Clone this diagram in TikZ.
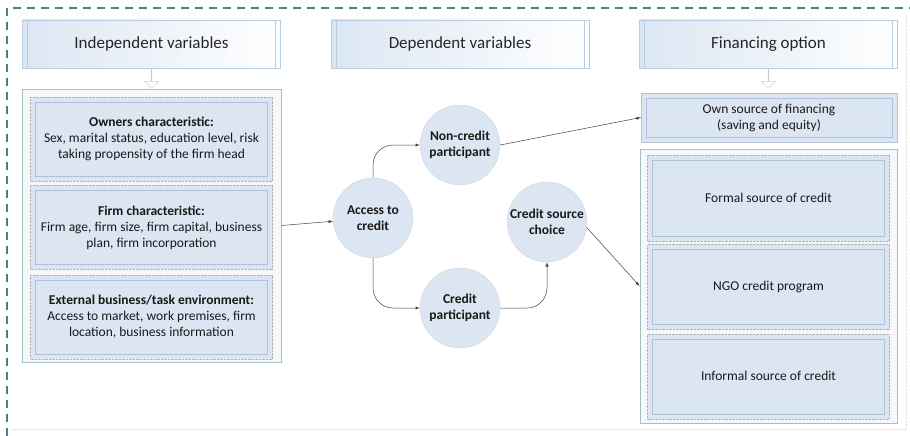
\documentclass[tikz,border=0pt]{standalone}
\usepackage{fontspec}
\setmainfont{Carlito}
\usepackage{tikz}
\usetikzlibrary{arrows,shapes.arrows,positioning}
\definecolor{boxblue}{HTML}{DCE6F2}
\definecolor{hdrblue}{HTML}{DCE6F3}
\definecolor{hdrline}{HTML}{B9CDE2}
\definecolor{bevel}{HTML}{AFC2D8}
\definecolor{grpline}{HTML}{9EC4C6}
\definecolor{grpfill}{HTML}{F5F7F9}
\definecolor{frameteal}{HTML}{4F7F86}
\tikzset{
  header/.style={
      rectangle,
      draw=hdrline,
      left color=hdrblue,
      right color=white,
      minimum width=258pt,
      minimum height=48pt,
      text=black!85,
      font=\fontsize{17}{20}\selectfont,
      path picture={
        \draw[hdrline] ([xshift=5pt]path picture bounding box.north west) -- ([xshift=5pt]path picture bounding box.south west);
        \draw[hdrline] ([xshift=-5pt]path picture bounding box.north east) -- ([xshift=-5pt]path picture bounding box.south east);
      }
  },
  group/.style={
      rectangle,
      draw=grpline,
      fill=grpfill,
      line width=0.8pt
  },
  factor/.style={
      rectangle,
      draw=black!30,
      densely dotted,
      fill=boxblue,
      minimum width=242pt,
      align=center,
      text=black!90,
      font=\fontsize{13.5}{16}\selectfont,
      path picture={
        \draw[solid,bevel] ([shift={(5pt,-5pt)}]path picture bounding box.north west) rectangle ([shift={(-5pt,5pt)}]path picture bounding box.south east);
      }
  },
  stage/.style={
      circle,
      draw=black!35,
      densely dotted,
      fill=boxblue,
      minimum size=80pt,
      inner sep=0pt,
      align=center,
      text=black!90,
      font=\bfseries\fontsize{13.5}{16}\selectfont
  },
  downarrow/.style={
      single arrow,
      shape border rotate=270,
      draw=black!20,
      fill=white,
      minimum height=19pt,
      minimum width=14pt,
      single arrow head extend=3pt,
      inner sep=0pt
  },
  link/.style={->,>=latex,draw=black!75,line width=0.5pt}
}
\begin{document}
\begin{tikzpicture}[x=1pt,y=-1pt]
    \useasboundingbox (0,0) rectangle (910,436);
    % frame
    \draw[black!12,densely dotted] (12,429) -- (906,429) -- (906,14);
    \draw[frameteal,line width=1.2pt,dash pattern=on 8pt off 6pt] (7,436) -- (7,8) -- (910,8);

    % headers
    \node[header] (indep) at (151.5,44) {Independent variables};
    \node[header] (dep) at (460,44) {Dependent variables};
    \node[header] (finopt) at (768.5,44) {Financing option};
    \node[downarrow,below=1pt of indep] (indarr) {};
    \node[downarrow,below=1pt of finopt] (finarr) {};

    % independent variables
    \node[group,minimum width=259pt,minimum height=273pt] (leftgrp) at (151.5,225.5) {};
    \node[factor,minimum height=84pt] (owners) at (151.5,139)
      {\textbf{Owners characteristic:}\\Sex, marital status, education level, risk\\taking propensity of the firm head};
    \node[factor,minimum height=84pt,below=4pt of owners] (firm)
      {\textbf{Firm characteristic:}\\Firm age, firm size, firm capital, business\\plan, firm incorporation};
    \node[factor,minimum height=84pt,below=5pt of firm] (extern)
      {\textbf{External business/task environment:}\\Access to market, work premises, firm\\location, business information};

    % dependent variables
    \node[stage] (access) at (373,218) {Access to\\credit};
    \node[stage] (noncredit) at (460,145) {Non-credit\\participant};
    \node[stage] (credit) at (460,308) {Credit\\participant};
    \node[stage] (choice) at (547,222) {Credit source\\choice};

    % financing options
    \node[factor,draw=bevel,solid,minimum width=256pt,minimum height=49pt] (own) at (769,117.5)
      {Own source of financing\\(saving and equity)};
    \node[group,minimum width=257pt,minimum height=274pt] (rightgrp) at (768.5,286) {};
    \node[factor,minimum height=86pt] (formal) at (768.5,198) {Formal source of credit};
    \node[factor,minimum height=85pt,below=3pt of formal] (ngo) {NGO credit program};
    \node[factor,minimum height=85pt,below=4pt of ngo] (informal) {Informal source of credit};

    % connectors
    \draw[link] (leftgrp.east) -- (access);
    \draw[link,rounded corners=20pt] (access.north) |- (noncredit.west);
    \draw[link,rounded corners=20pt] (access.south) |- (credit.west);
    \draw[link,rounded corners=20pt] (credit.east) -| (choice.south);
    \draw[link] (noncredit.east) -- (own.west);
    \draw[link] (choice.-8) -- (rightgrp.west);
  \end{tikzpicture}
\end{document}
